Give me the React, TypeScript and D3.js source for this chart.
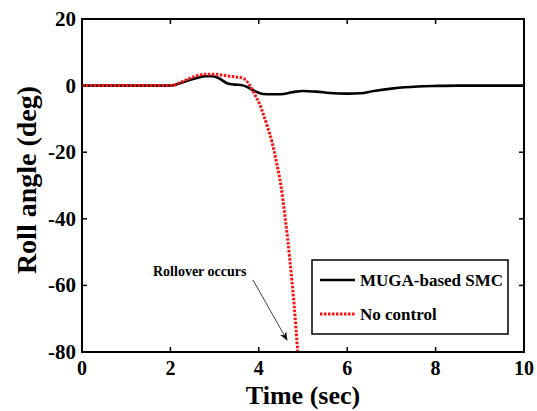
import React from "react";
import * as d3 from "d3";

const smcTime = [0, 2.0, 2.2, 2.4, 2.6, 2.8, 2.95, 3.1, 3.28, 3.45, 3.6, 3.75, 3.9, 4.1, 4.3, 4.5, 4.75, 5.0, 5.3, 5.6, 6.0, 6.3, 6.6, 7.0, 7.3, 7.6, 8.0, 8.5, 9, 10];
const smcRoll = [0, 0, 0.6, 1.5, 2.3, 2.8, 2.8, 2.2, 0.7, 0.3, 0.2, -0.5, -1.6, -2.5, -2.6, -2.6, -2.0, -1.6, -1.8, -2.2, -2.4, -2.3, -1.6, -0.9, -0.5, -0.25, -0.1, 0, 0, 0];

const noCtrlTime = [0, 2.05, 2.2, 2.4, 2.6, 2.8, 3.0, 3.2, 3.4, 3.6, 3.7, 3.8, 3.9, 4.0, 4.1, 4.2, 4.3, 4.4, 4.5, 4.6, 4.7, 4.8, 4.88];
const noCtrlRoll = [0, 0, 0.8, 2.0, 3.0, 3.4, 3.4, 3.1, 2.7, 2.4, 1.7, 0, -2.5, -5, -8.5, -12.5, -17, -23, -30, -40, -52, -66, -80];

const xTicks = [0, 2, 4, 6, 8, 10];
const yTicks = [20, 0, -20, -40, -60, -80];
const legendLabels = ["MUGA-based SMC", "No control"];

const FONT = "'Liberation Serif', 'Times New Roman', serif";

export default function App() {
  const W = 537, H = 411;
  const L = 82, R = 524, T = 19, B = 352;
  const x = d3.scaleLinear().domain([0, 10]).range([L, R]);
  const y = d3.scaleLinear().domain([-80, 20]).range([B, T]);

  const line = d3
    .line<[number, number]>()
    .x((d) => x(d[0]))
    .y((d) => y(d[1]))
    .curve(d3.curveMonotoneX);

  const smcPath = line(smcTime.map((t, i) => [t, smcRoll[i]]) as [number, number][]) || "";
  const ncPath = line(noCtrlTime.map((t, i) => [t, noCtrlRoll[i]]) as [number, number][]) || "";

  const tickLen = 5;

  return (
    <svg width={W} height={H} style={{ position: "absolute", left: 0, top: 0, background: "#fff" }}>
      <defs>
        <clipPath id="plotClip">
          <rect x={L} y={T} width={R - L} height={B - T} />
        </clipPath>
        <marker id="arrowHead" viewBox="0 0 10 10" refX="9" refY="5" markerWidth="9" markerHeight="9" orient="auto" markerUnits="userSpaceOnUse">
          <path d="M0,1 L10,5 L0,9 L3,5 Z" fill="#111" />
        </marker>
      </defs>
      <rect x={0} y={0} width={W} height={H} fill="#fff" />

      {/* ticks */}
      {xTicks.slice(1, -1).map((t) => (
        <g key={"xt" + t}>
          <line x1={x(t)} x2={x(t)} y1={B} y2={B - tickLen} stroke="#000" strokeWidth={1.5} />
          <line x1={x(t)} x2={x(t)} y1={T} y2={T + tickLen} stroke="#000" strokeWidth={1.5} />
        </g>
      ))}
      {yTicks.slice(1, -1).map((t) => (
        <g key={"yt" + t}>
          <line x1={L} x2={L + tickLen} y1={y(t)} y2={y(t)} stroke="#000" strokeWidth={1.5} />
          <line x1={R} x2={R - tickLen} y1={y(t)} y2={y(t)} stroke="#000" strokeWidth={1.5} />
        </g>
      ))}

      {/* data */}
      <g clipPath="url(#plotClip)">
        <path d={smcPath} fill="none" stroke="#000" strokeWidth={2.6} />
        <path d={ncPath} fill="none" stroke="#ff1010" strokeWidth={3} strokeDasharray="2.5,1.5" />
      </g>

      {/* frame */}
      <rect x={L} y={T} width={R - L} height={B - T} fill="none" stroke="#000" strokeWidth={2} />

      {/* tick labels */}
      {xTicks.map((t) => (
        <text key={"xl" + t} x={x(t)} y={375} textAnchor="middle" fontFamily={FONT} fontWeight="bold" fontSize={20}>
          {t}
        </text>
      ))}
      {yTicks.map((t) => (
        <text key={"yl" + t} x={76} y={y(t) + 7} textAnchor="end" fontFamily={FONT} fontWeight="bold" fontSize={21}>
          {t}
        </text>
      ))}

      {/* axis labels */}
      <text x={303} y={404} textAnchor="middle" fontFamily={FONT} fontWeight="bold" fontSize={26}>
        Time (sec)
      </text>
      <text
        transform={`translate(36,180) rotate(-90)`}
        textAnchor="middle"
        fontFamily={FONT}
        fontWeight="bold"
        fontSize={28}
      >
        Roll angle (deg)
      </text>

      {/* annotation */}
      <text x={153} y={276} fontFamily={FONT} fontWeight="bold" fontSize={14}>
        Rollover occurs
      </text>
      <line x1={253} y1={280} x2={287} y2={340} stroke="#444" strokeWidth={1} markerEnd="url(#arrowHead)" />

      {/* legend */}
      <rect x={312} y={260} width={196} height={74} fill="#fff" stroke="#000" strokeWidth={1.5} />
      <line x1={320} x2={355} y1={280} y2={280} stroke="#000" strokeWidth={2.6} />
      <text x={360} y={286} fontFamily={FONT} fontWeight="bold" fontSize={17}>
        {legendLabels[0]}
      </text>
      <line x1={320} x2={355} y1={314} y2={314} stroke="#ff1010" strokeWidth={3} strokeDasharray="2.5,1.5" />
      <text x={360} y={320} fontFamily={FONT} fontWeight="bold" fontSize={17}>
        {legendLabels[1]}
      </text>
    </svg>
  );
}
